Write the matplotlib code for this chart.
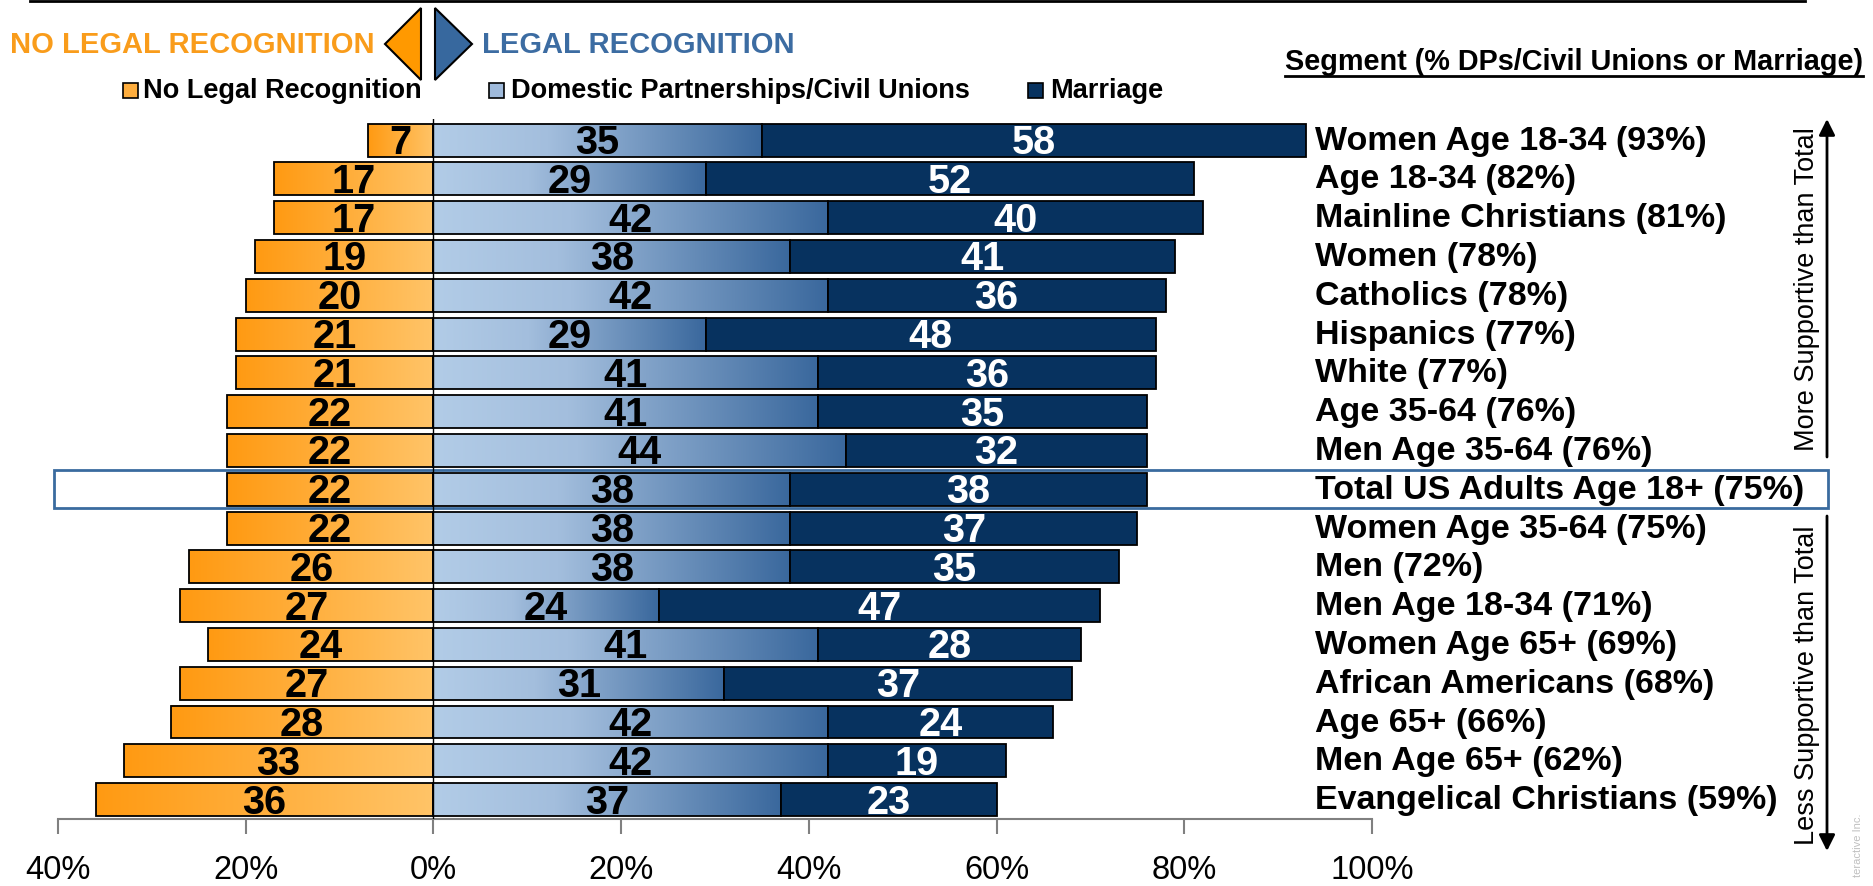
#! /usr/bin/env python3
"""
Support for legal recognition of same-sex couples, by segment.

Diverging stacked bars: no legal recognition runs left of zero, domestic
partnerships/civil unions and marriage run right of it.
"""

import matplotlib.pyplot as plt
import numpy as np
from matplotlib.colors import LinearSegmentedColormap
from matplotlib.lines import Line2D
from matplotlib.patches import FancyArrowPatch, Polygon, Rectangle
from matplotlib.transforms import blended_transform_factory

segments = [
    "Women Age 18-34 (93%)", "Age 18-34 (82%)", "Mainline Christians (81%)",
    "Women (78%)", "Catholics (78%)", "Hispanics (77%)", "White (77%)",
    "Age 35-64 (76%)", "Men Age 35-64 (76%)",
    "Total US Adults Age 18+ (75%)", "Women Age 35-64 (75%)", "Men (72%)",
    "Men Age 18-34 (71%)", "Women Age 65+ (69%)", "African Americans (68%)",
    "Age 65+ (66%)", "Men Age 65+ (62%)", "Evangelical Christians (59%)",
]
no_legal = [7, 17, 17, 19, 20, 21, 21, 22, 22, 22, 22, 26, 27, 24, 27, 28, 33, 36]
civil_unions = [35, 29, 42, 38, 42, 29, 41, 41, 44, 38, 38, 38, 24, 41, 31, 42, 42, 37]
marriage = [58, 52, 40, 41, 36, 48, 36, 35, 32, 38, 37, 35, 47, 28, 37, 24, 19, 23]
total_row = "Total US Adults Age 18+ (75%)"
x_ticks = [-40, -20, 0, 20, 40, 60, 80, 100]
x_tick_labels = ["40%", "20%", "0%", "20%", "40%", "60%", "80%", "100%"]
legend_labels = [
    "No Legal Recognition", "Domestic Partnerships/Civil Unions", "Marriage",
]

W, H = 1874, 887
orange_text = "#F99C1B"
blue_text = "#3C6CA2"
navy = "#07325F"


def fx(x):
    return x / W


def fy(y):
    # pixel rows counted from the top
    return 1 - y / H


def gradient_fill(ax, patches, cmap):
    grad = np.linspace(0, 1, 256).reshape(1, -1)
    for patch in patches:
        bb = patch.get_bbox()
        ax.imshow(
            grad, cmap=cmap, aspect="auto", interpolation="bilinear",
            extent=(bb.xmin, bb.xmax, bb.ymax, bb.ymin), zorder=2,
        )


def main():
    plt.rcParams["font.family"] = ["Liberation Sans", "DejaVu Sans"]
    orange_cmap = LinearSegmentedColormap.from_list(
        "orange", ["#FF9A12", "#FFC468"]
    )
    blue_cmap = LinearSegmentedColormap.from_list(
        "blue", [(0, "#B2CCE7"), (0.35, "#A3BEDD"), (1, "#3A689D")]
    )

    fig = plt.figure(figsize=(W / 100, H / 100), dpi=100)
    ax = fig.add_axes([fx(58), fy(820), (1372 - 58) / W, (820 - 119.7) / H])

    y = np.arange(len(segments))
    bar_kw = dict(height=0.85, edgecolor="black", linewidth=1.3, zorder=3)
    left = ax.barh(y, [-v for v in no_legal], color="none", **bar_kw)
    mid = ax.barh(y, civil_unions, color="none", **bar_kw)
    ax.barh(y, marriage, left=civil_unions, color=navy, **bar_kw)
    gradient_fill(ax, left, orange_cmap)
    gradient_fill(ax, mid, blue_cmap)

    num_kw = dict(ha="center", va="center", fontsize=28.5, weight="bold",
                  zorder=4)
    for i in y:
        yy = i + 0.05  # digits have no descenders, nudge to look centred
        ax.text(-no_legal[i] / 2, yy, str(no_legal[i]), color="black", **num_kw)
        ax.text(civil_unions[i] / 2, yy, str(civil_unions[i]), color="black",
                **num_kw)
        ax.text(civil_unions[i] + marriage[i] / 2, yy, str(marriage[i]),
                color="white", **num_kw)

    trans = blended_transform_factory(ax.transAxes, ax.transData)
    for i, label in enumerate(segments):
        ax.text(0.9566, i, label, transform=trans, ha="left", va="center",
                fontsize=24.5, weight="bold", clip_on=False)

    t = segments.index(total_row)
    ax.add_patch(Rectangle((-40.43, t - 0.49), 189.0, 0.98, fill=False,
                           edgecolor="#3A6B9F", linewidth=2, clip_on=False,
                           zorder=1))

    ax.axvline(0, color="black", linewidth=1, zorder=5)
    ax.set_xlim(-40, 100)
    ax.set_ylim(len(segments) - 0.5, -0.55)
    ax.set_xticks(x_ticks)
    ax.set_xticklabels(x_tick_labels)
    ax.set_yticks([])
    for side in ("top", "left", "right"):
        ax.spines[side].set_visible(False)
    ax.spines["bottom"].set_color("#808080")
    ax.spines["bottom"].set_linewidth(1.5)
    ax.tick_params(axis="x", length=11, width=1.5, color="#808080", pad=14,
                   labelsize=23.5)

    # header
    fig.add_artist(Line2D([fx(30), fx(1805)], [fy(2), fy(2)], color="black",
                          linewidth=2))
    fig.text(fx(10), fy(45), "NO LEGAL RECOGNITION", color=orange_text,
             fontsize=21, weight="bold", va="center")
    fig.text(fx(482), fy(45), "LEGAL RECOGNITION", color=blue_text,
             fontsize=21, weight="bold", va="center")
    fig.add_artist(Polygon(
        [(fx(421), fy(9)), (fx(385), fy(45)), (fx(421), fy(81))],
        closed=True, facecolor="#FF9900", edgecolor="black", linewidth=1.5,
        transform=fig.transFigure))
    fig.add_artist(Polygon(
        [(fx(435), fy(9)), (fx(472), fy(45)), (fx(435), fy(81))],
        closed=True, facecolor="#37689E", edgecolor="black", linewidth=1.5,
        transform=fig.transFigure))

    # legend
    swatches = ["#FFAE3E", "#9FBADB", navy]
    for sx, tx, colour, label in zip(
        [123, 489, 1028], [143, 511, 1050], swatches, legend_labels
    ):
        fig.add_artist(Rectangle((fx(sx), fy(99)), 15 / W, 15 / H,
                                 facecolor=colour, edgecolor="black",
                                 linewidth=1.2, transform=fig.transFigure))
        fig.text(fx(tx), fy(91), label, fontsize=19.5, weight="bold",
                 va="center")

    seg = fig.text(fx(1285), fy(62), "Segment (% DPs/Civil Unions or Marriage)",
                   fontsize=20.8, weight="bold", va="center")
    fig.canvas.draw()
    bb = seg.get_window_extent().transformed(fig.transFigure.inverted())
    fig.add_artist(Line2D([bb.x0, bb.x1], [bb.y0 - 1 / H, bb.y0 - 1 / H],
                          color="black", linewidth=2))

    # side arrows
    for tail, tip in [(458, 120), (517, 852)]:
        fig.add_artist(FancyArrowPatch(
            (fx(1827), fy(tail)), (fx(1827), fy(tip)),
            transform=fig.transFigure, arrowstyle="-|>", mutation_scale=24,
            color="black", linewidth=2, shrinkA=0, shrinkB=0))
    fig.text(fx(1807), fy(289), "More Supportive than Total", rotation=90,
             fontsize=19.5, ha="center", va="center")
    fig.text(fx(1807), fy(685), "Less Supportive than Total", rotation=90,
             fontsize=19.5, ha="center", va="center")
    fig.text(fx(1858), fy(845), "teractive Inc.", rotation=90, fontsize=8,
             color="#C0C0C0", ha="center", va="center")

    fig.savefig("out.png", dpi=100)


if __name__ == "__main__":
    main()
